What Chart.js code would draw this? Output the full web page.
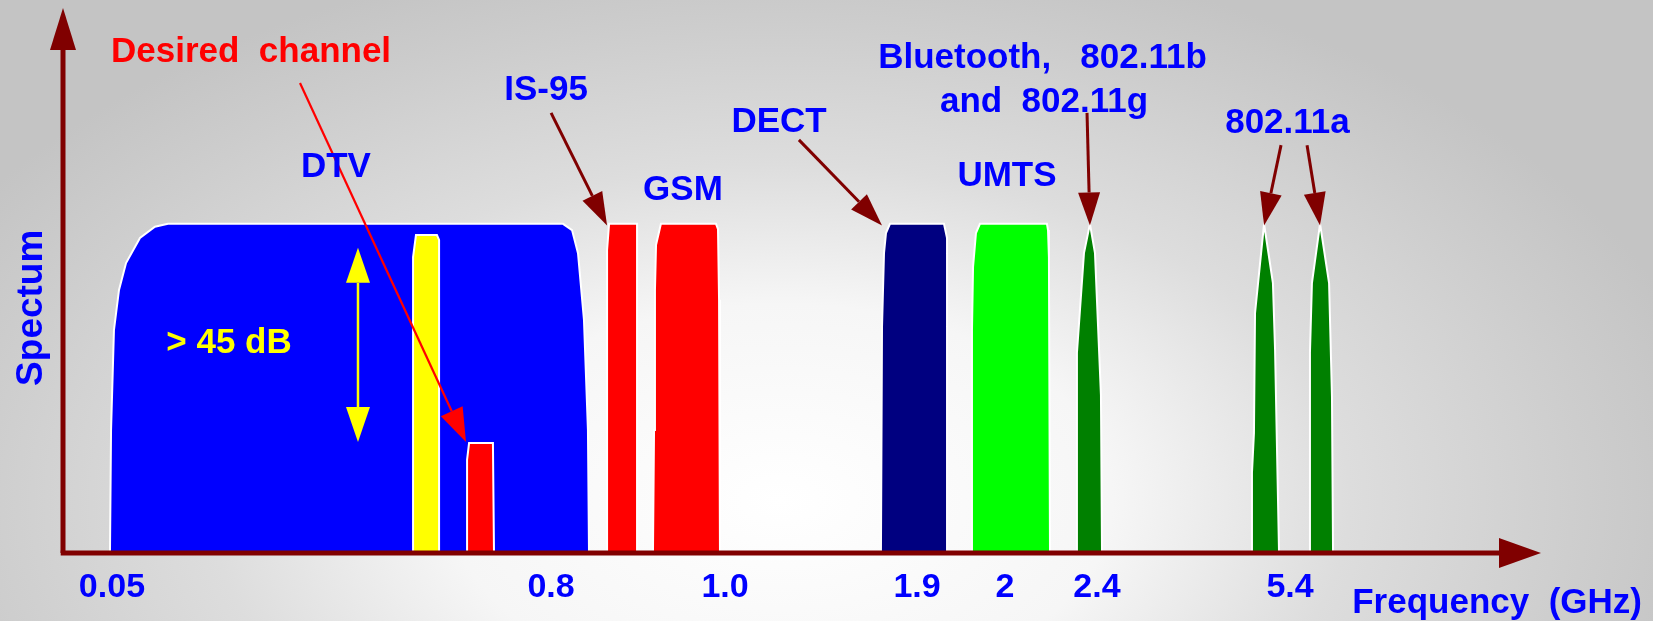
<!DOCTYPE html>
<html>
<head>
<meta charset="utf-8">
<title>Spectrum</title>
<script src="https://cdn.jsdelivr.net/npm/chart.js@4.4.1/dist/chart.umd.min.js"></script>
<style>
  html, body { margin: 0; padding: 0; }
  body {
    width: 1653px; height: 621px; overflow: hidden;
    background: radial-gradient(ellipse 950px 560px at 780px 500px,
      #ffffff 0%, #f6f6f6 35%, #dddddd 60%, #cdcdcd 85%, #c4c4c4 100%);
  }
  #wrap { position: relative; width: 1653px; height: 621px; }
</style>
</head>
<body>
<div id="wrap"><canvas id="spectrum"></canvas></div>
<script>
// x runs along the frequency line (0 = origin, 100 = far end), y is relative level (100 = full)
const dtvX = [3.07, 3.14, 3.33, 3.66, 4.12, 5.03, 6.01, 6.86, 32.68, 33.27, 33.66, 34.05, 34.31, 34.38];
const dtvY = [0, 37.4, 67.7, 79.9, 88.1, 95.7, 99.1, 100, 100, 98.1, 91.1, 70.8, 37.4, 0];

const adjX = [22.88, 22.88, 23.07, 24.44, 24.58, 24.58];
const adjY = [0, 89.9, 96.6, 96.6, 95.1, 0];

const wantedX = [26.41, 26.41, 26.54, 28.10, 28.17];
const wantedY = [0, 28.3, 33.4, 33.4, 0];

const is95X = [35.56, 35.56, 35.69, 37.52, 37.52];
const is95Y = [0, 92.0, 100, 100, 0];

const gsmX = [38.56, 38.63, 38.69, 38.76, 39.08, 42.68, 42.81, 42.88, 42.94];
const gsmY = [0, 37.4, 79.9, 93.6, 100, 100, 98.4, 76.9, 0];

const dectX = [53.46, 53.53, 53.66, 53.79, 54.05, 57.58, 57.78, 57.78];
const dectY = [0, 68.7, 91.1, 97.2, 100, 100, 95.7, 0];

const umtsX = [59.41, 59.41, 59.48, 59.67, 59.93, 64.31, 64.38, 64.44, 64.51];
const umtsY = [0, 67.7, 86.9, 97.2, 100, 100, 98.1, 89.9, 0];

const wlanBX = [66.27, 66.27, 66.73, 67.12, 67.45, 67.84, 67.91];
const wlanBY = [0, 60.8, 91.1, 100, 91.1, 48.0, 0];

const wlanA1X = [77.71, 77.71, 77.84, 77.91, 78.50, 79.08, 79.22, 79.48];
const wlanA1Y = [0, 24.3, 36.5, 72.9, 100, 82.0, 61.7, 0];

const wlanA2X = [81.44, 81.50, 81.63, 82.16, 82.75, 82.94, 83.01];
const wlanA2Y = [0, 60.8, 82.0, 100, 82.0, 47.4, 0];

const tickPos = [3.20, 31.90, 43.27, 55.82, 61.57, 67.58, 80.20];
const tickLabels = ['0.05', '0.8', '1.0', '1.9', '2', '2.4', '5.4'];

const bands = [
  { label: 'Desired channel', x: wantedX, y: wantedY, color: '#ff0000', order: 1 },
  { label: 'Adjacent', x: adjX, y: adjY, color: '#ffff00', order: 2 },
  { label: 'DTV', x: dtvX, y: dtvY, color: '#0000ff', order: 3 },
  { label: 'IS-95', x: is95X, y: is95Y, color: '#ff0000', order: 1 },
  { label: 'GSM', x: gsmX, y: gsmY, color: '#ff0000', order: 1 },
  { label: 'DECT', x: dectX, y: dectY, color: '#000080', order: 1 },
  { label: 'UMTS', x: umtsX, y: umtsY, color: '#00ff00', order: 1 },
  { label: '802.11b/g', x: wlanBX, y: wlanBY, color: '#008000', order: 1 },
  { label: '802.11a low', x: wlanA1X, y: wlanA1Y, color: '#008000', order: 1 },
  { label: '802.11a high', x: wlanA2X, y: wlanA2Y, color: '#008000', order: 1 }
];

// text labels: [text, x, y, colour, size]
const notes = [
  ['Desired  channel', 12.29, 149.2, '#ff0000', 35],
  ['DTV', 17.84, 114.2, '#0000ff', 35],
  ['IS-95', 31.57, 137.6, '#0000ff', 35],
  ['GSM', 40.52, 107.2, '#0000ff', 35],
  ['DECT', 46.80, 127.9, '#0000ff', 35],
  ['UMTS', 61.70, 111.5, '#0000ff', 35],
  ['Bluetooth,   802.11b', 64.02, 147.3, '#0000ff', 35],
  ['and  802.11g', 64.12, 134.0, '#0000ff', 35],
  ['802.11a', 80.03, 127.6, '#0000ff', 35],
  ['> 45 dB', 10.85, 60.8, '#ffff00', 35],
  ['Frequency  (GHz)', 93.73, -18.2, '#0000ff', 35]
];

// pointers from labels to bands: [x1, y1, x2, y2]
const pointers = [
  [31.90, 133.7, 35.56, 99.5],
  [48.10, 125.5, 53.53, 99.5],
  [66.93, 133.7, 67.12, 99.5],
  [79.61, 123.9, 78.50, 99.5],
  [81.31, 123.9, 82.16, 99.5]
];

function arrowHead(ctx, x1, y1, x2, y2, len, half) {
  const a = Math.atan2(y2 - y1, x2 - x1);
  const bx = x2 - len * Math.cos(a), by = y2 - len * Math.sin(a);
  ctx.beginPath();
  ctx.moveTo(x2, y2);
  ctx.lineTo(bx + half * Math.sin(a), by - half * Math.cos(a));
  ctx.lineTo(bx - half * Math.sin(a), by + half * Math.cos(a));
  ctx.closePath();
  ctx.fill();
  return [bx, by];
}

function arrow(ctx, x1, y1, x2, y2, color, width, len, half) {
  ctx.fillStyle = color;
  ctx.strokeStyle = color;
  ctx.lineWidth = width;
  const b = arrowHead(ctx, x1, y1, x2, y2, len, half);
  ctx.beginPath();
  ctx.moveTo(x1, y1);
  ctx.lineTo(b[0], b[1]);
  ctx.stroke();
}

const decorations = {
  id: 'decorations',
  afterDatasetsDraw(chart) {
    const ctx = chart.ctx;
    const xs = chart.scales.x, ys = chart.scales.y;
    const px = v => xs.getPixelForValue(v);
    const py = v => ys.getPixelForValue(v);
    ctx.save();

    // axes
    const axis = '#800000';
    ctx.strokeStyle = axis;
    ctx.fillStyle = axis;
    ctx.lineWidth = 5;
    ctx.beginPath();
    ctx.moveTo(px(0), py(0));
    ctx.lineTo(px(0), py(152.8));
    ctx.stroke();
    arrowHead(ctx, px(0), py(0), px(0), py(165.6), 42, 13);
    ctx.beginPath();
    ctx.moveTo(px(-0.15), py(0));
    ctx.lineTo(px(93.9), py(0));
    ctx.stroke();
    arrowHead(ctx, px(0), py(0), px(96.6), py(0), 42, 15);

    // yellow level marker
    ctx.fillStyle = '#ffff00';
    ctx.strokeStyle = '#ffff00';
    ctx.lineWidth = 2.5;
    const mx = px(19.28);
    const top = arrowHead(ctx, mx, py(33.7), mx, py(92.7), 35, 12);
    const bot = arrowHead(ctx, mx, py(92.7), mx, py(33.7), 35, 12);
    ctx.beginPath();
    ctx.moveTo(mx, top[1]);
    ctx.lineTo(mx, bot[1]);
    ctx.stroke();

    // desired channel pointer
    arrow(ctx, px(15.49), py(142.8), px(26.34), py(33.7), '#ff0000', 2.2, 34, 12);

    pointers.forEach(p => {
      arrow(ctx, px(p[0]), py(p[1]), px(p[2]), py(p[3]), axis, 3, 33, 11);
    });

    // labels
    ctx.textAlign = 'center';
    ctx.textBaseline = 'alphabetic';
    notes.forEach(n => {
      ctx.font = 'bold ' + n[4] + 'px "Liberation Sans", Arial, sans-serif';
      ctx.fillStyle = n[3];
      ctx.fillText(n[0], px(n[1]), py(n[2]));
    });

    ctx.font = 'bold 34px "Liberation Sans", Arial, sans-serif';
    ctx.fillStyle = '#0000ff';
    tickPos.forEach((t, i) => {
      ctx.fillText(tickLabels[i], px(t), py(-13.4));
    });

    ctx.translate(42, py(74.5));
    ctx.rotate(-Math.PI / 2);
    ctx.font = 'bold 37px "Liberation Sans", Arial, sans-serif';
    ctx.fillText('Spectum', 0, 0);

    ctx.restore();
  }
};

new Chart(document.getElementById('spectrum'), {
  type: 'line',
  data: {
    datasets: bands.map(b => ({
      label: b.label,
      data: b.x.map((x, i) => ({ x: x, y: b.y[i] })),
      backgroundColor: b.color,
      borderColor: '#ffffff',
      borderWidth: 2,
      fill: 'origin',
      pointRadius: 0,
      tension: 0,
      order: b.order
    }))
  },
  options: {
    responsive: true,
    maintainAspectRatio: false,
    animation: false,
    layout: { padding: { left: 63, right: 60, top: 0, bottom: 68 } },
    scales: {
      x: { type: 'linear', min: 0, max: 100, display: false },
      y: { min: 0, max: 168, display: false }
    },
    plugins: {
      legend: { display: false },
      tooltip: { enabled: false }
    }
  },
  plugins: [decorations]
});
</script>
</body>
</html>
